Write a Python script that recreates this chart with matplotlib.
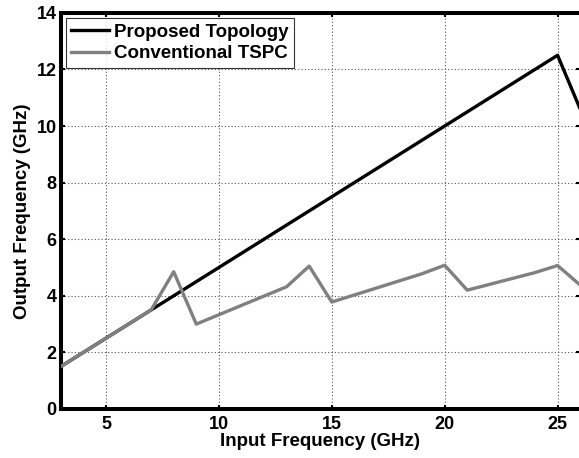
import matplotlib
matplotlib.use("Agg")
import matplotlib.pyplot as plt

# values
prop_x = [3, 25, 26]
prop_y = [1.5, 12.5, 10.6]

conv_x = [3, 7, 8, 9, 13, 14, 15, 19, 20, 21, 24, 25, 26]
conv_y = [1.5, 3.5, 4.85, 3.0, 4.32, 5.05, 3.78, 4.78, 5.08, 4.2, 4.82, 5.07, 4.38]

x_ticks = [5, 10, 15, 20, 25]
y_ticks = [0, 2, 4, 6, 8, 10, 12, 14]

plt.rcParams["font.family"] = ["Liberation Sans", "DejaVu Sans"]
plt.rcParams["font.weight"] = "bold"

fig = plt.figure(figsize=(5.79, 4.58), dpi=100)
ax = fig.add_axes([0.105, 0.107, 0.897, 0.865])

ax.plot(prop_x, prop_y, color="black", lw=2.4, label="Proposed Topology", zorder=3)
ax.plot(conv_x, conv_y, color="#808080", lw=2.4, label="Conventional TSPC", zorder=3)

ax.set_xlim(3, 26)
ax.set_ylim(0, 14)
ax.set_xticks(x_ticks)
ax.set_yticks(y_ticks)
ax.grid(True, linestyle=(0, (1, 2)), color="#555555", lw=0.8)

ax.tick_params(direction="in", top=True, right=True, length=3, width=1.5,
               labelsize=13, pad=3)
ax.tick_params(axis="x", pad=5)
for lab in ax.get_xticklabels() + ax.get_yticklabels():
    lab.set_fontweight("bold")
for spine in ax.spines.values():
    spine.set_linewidth(2.9)

ax.set_xlabel("Input Frequency (GHz)", fontsize=13.5, fontweight="bold", labelpad=0)
ax.set_ylabel("Output Frequency (GHz)", fontsize=13.5, fontweight="bold", labelpad=4)

leg = ax.legend(loc="upper left", fontsize=13.5, frameon=True, fancybox=False,
                borderpad=0.3, handlelength=2.0, handletextpad=0.27,
                labelspacing=0.25, borderaxespad=0.27)
leg.get_frame().set_edgecolor("black")
leg.get_frame().set_linewidth(0.8)
for t in leg.get_texts():
    t.set_fontweight("bold")

plt.savefig("out.png", dpi=100)
plt.close()
